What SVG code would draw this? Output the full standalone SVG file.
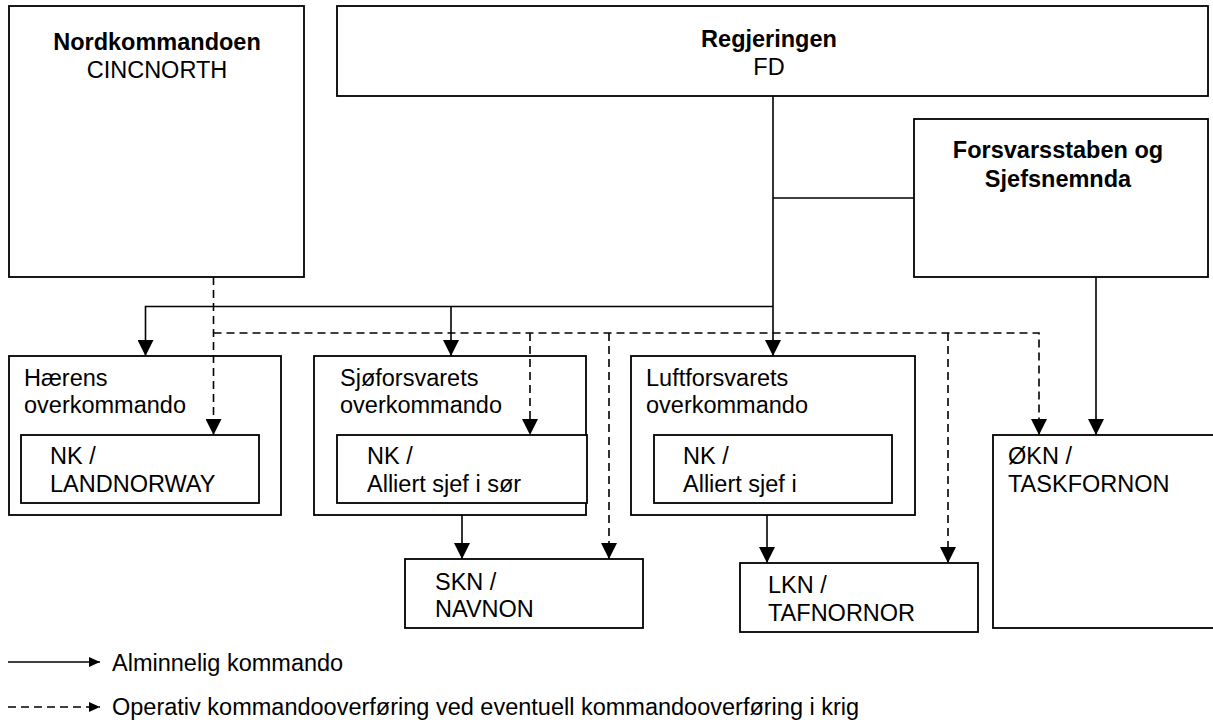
<svg xmlns="http://www.w3.org/2000/svg" width="1213" height="724" viewBox="0 0 1213 724">
<style>
.box{fill:#fff;stroke:#000;stroke-width:1.8}
.t{font-family:"Liberation Sans",Arial,sans-serif;font-size:23.5px;fill:#000}
.b{font-weight:bold}
.c{text-anchor:middle}
.ln{fill:none;stroke:#000;stroke-width:1.6}
.ds{stroke-dasharray:8 5}
</style>
<defs>
<marker id="ah" viewBox="0 0 16 16" refX="16" refY="8" markerWidth="16" markerHeight="16" markerUnits="userSpaceOnUse" orient="auto">
<path d="M0,0 L16,8 L0,16 z" fill="#000"/>
</marker>
<marker id="ahs" viewBox="0 0 11 10" refX="11" refY="5" markerWidth="11" markerHeight="10" markerUnits="userSpaceOnUse" orient="auto">
<path d="M0,0 L11,5 L0,10 z" fill="#000"/>
</marker>
</defs>
<rect width="1213" height="724" fill="#fff"/>

<g id="nordkommandoen">
<rect class="box" x="9" y="6" width="295" height="271"/>
<text class="t b c" x="157" y="50">Nordkommandoen</text>
<text class="t c" x="157" y="78">CINCNORTH</text>
</g>
<g id="regjeringen">
<rect class="box" x="337" y="6" width="871" height="90"/>
<text class="t b c" x="769" y="47">Regjeringen</text>
<text class="t c" x="769" y="75">FD</text>
</g>
<g id="forsvarsstaben">
<rect class="box" x="914" y="119" width="294" height="158"/>
<text class="t b c" x="1058" y="158">Forsvarsstaben og</text>
<text class="t b c" x="1058" y="187">Sjefsnemnda</text>
</g>
<g id="haerens">
<rect class="box" x="9" y="356" width="272" height="159"/>
<text class="t" x="24" y="386">Hærens</text>
<text class="t" x="24" y="413">overkommando</text>
</g>
<g id="nk-landnorway">
<rect class="box" x="21" y="435" width="238" height="68"/>
<text class="t" x="50" y="464">NK /</text>
<text class="t" x="50" y="492">LANDNORWAY</text>
</g>
<g id="sjoforsvarets">
<rect class="box" x="314" y="356" width="272" height="159"/>
<text class="t" x="340" y="386">Sjøforsvarets</text>
<text class="t" x="340" y="413">overkommando</text>
</g>
<g id="nk-sor">
<rect class="box" x="337" y="435" width="250" height="68"/>
<text class="t" x="367" y="464">NK /</text>
<text class="t" x="367" y="492">Alliert sjef i sør</text>
</g>
<g id="luftforsvarets">
<rect class="box" x="631" y="356" width="284" height="159"/>
<text class="t" x="646" y="386">Luftforsvarets</text>
<text class="t" x="646" y="413">overkommando</text>
</g>
<g id="nk-luft">
<rect class="box" x="654" y="435" width="238" height="68"/>
<text class="t" x="683" y="464">NK /</text>
<text class="t" x="683" y="492">Alliert sjef i</text>
</g>
<g id="skn">
<rect class="box" x="405" y="559" width="238" height="69"/>
<text class="t" x="435" y="590">SKN /</text>
<text class="t" x="435" y="617">NAVNON</text>
</g>
<g id="lkn">
<rect class="box" x="740" y="563" width="238" height="69"/>
<text class="t" x="768" y="593">LKN /</text>
<text class="t" x="768" y="621">TAFNORNOR</text>
</g>
<g id="okn">
<rect class="box" x="993" y="435" width="222" height="193"/>
<text class="t" x="1008" y="464">ØKN /</text>
<text class="t" x="1008" y="492">TASKFORNON</text>
</g>

<g id="connectors">
<path class="ln" d="M773,96 V356" marker-end="url(#ah)"/>
<path class="ln" d="M773,198 H914"/>
<path class="ln" d="M773,306.5 H145.5 V356" marker-end="url(#ah)"/>
<path class="ln" d="M451,306.5 V356" marker-end="url(#ah)"/>
<path class="ln" d="M1096,277 V435" marker-end="url(#ah)"/>
<path class="ln" d="M462,515 V559" marker-end="url(#ah)"/>
<path class="ln" d="M767,515 V563" marker-end="url(#ah)"/>
<path class="ln ds" d="M213.5,277 V435" marker-end="url(#ah)"/>
<path class="ln ds" d="M213.5,333 H1039 V435" marker-end="url(#ah)"/>
<path class="ln ds" d="M530,333 V435" marker-end="url(#ah)"/>
<path class="ln ds" d="M609,333 V559" marker-end="url(#ah)"/>
<path class="ln ds" d="M948,333 V563" marker-end="url(#ah)"/>
</g>

<g id="legend">
<path class="ln" d="M8,662 H100" marker-end="url(#ahs)"/>
<text class="t" x="112" y="671">Alminnelig kommando</text>
<path class="ln ds" d="M8,707 H100" marker-end="url(#ahs)"/>
<text class="t" x="112" y="715">Operativ kommandooverføring ved eventuell kommandooverføring i krig</text>
</g>
</svg>
